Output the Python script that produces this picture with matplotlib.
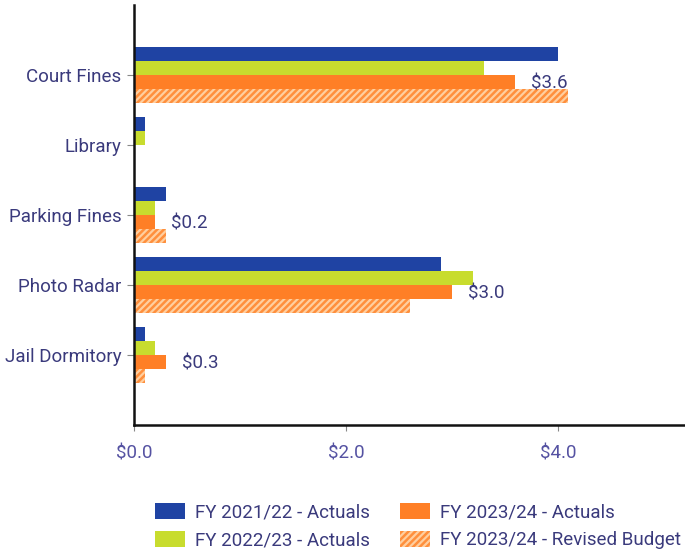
import matplotlib
matplotlib.use("Agg")
import matplotlib.pyplot as plt
from matplotlib.patches import Patch
import numpy as np

# Revenue by source, $ millions
categories = ["Court Fines", "Library", "Parking Fines", "Photo Radar", "Jail Dormitory"]
fy2122_actuals = [4.0, 0.1, 0.3, 2.9, 0.1]
fy2223_actuals = [3.3, 0.1, 0.2, 3.2, 0.2]
fy2324_actuals = [3.6, 0.0, 0.2, 3.0, 0.3]
fy2324_budget = [4.1, 0.0, 0.3, 2.6, 0.1]
labeled = [True, False, True, True, True]
series_names = ["FY 2021/22 - Actuals", "FY 2022/23 - Actuals",
                "FY 2023/24 - Actuals", "FY 2023/24 - Revised Budget"]
xticks = [0.0, 2.0, 4.0]

plt.rcParams["font.family"] = ["Roboto", "DejaVu Sans"]
plt.rcParams["hatch.linewidth"] = 1.8

BLUE = "#1f43a3"
GREEN = "#c8dc2e"
ORANGE = "#ff7f26"
HATCH_BG = "#ffcf9f"
HATCH_FG = "#ff8f3c"
TEXT = "#3a3a7c"
TICK_TEXT = "#5552a2"

fig = plt.figure(figsize=(6.85, 5.55), dpi=100)
ax = fig.add_axes([134 / 685, 1 - 425 / 555, 1 - 134 / 685, 420 / 555])

y = np.arange(len(categories))
h = 0.2
ax.barh(y - 1.5 * h, fy2122_actuals, height=h, color=BLUE, linewidth=0)
ax.barh(y - 0.5 * h, fy2223_actuals, height=h, color=GREEN, linewidth=0)
ax.barh(y + 0.5 * h, fy2324_actuals, height=h, color=ORANGE, linewidth=0)
ax.barh(y + 1.5 * h, fy2324_budget, height=h, color=HATCH_BG,
        edgecolor=HATCH_FG, hatch="/////", linewidth=0)

for yi, v, show in zip(y, fy2324_actuals, labeled):
    if show:
        ax.text(v + 0.15, yi + 0.5 * h + 0.02, f"${v:.1f}", va="center", ha="left",
                fontsize=13.5, color=TEXT)

ax.set_ylim(len(categories), -1)
ax.set_xlim(0, 5.2)
ax.set_yticks(y)
ax.set_yticklabels(categories, fontsize=13.5, color=TEXT)
ax.set_xticks(xticks)
ax.set_xticklabels([f"${t:.1f}" for t in xticks], fontsize=13.5, color=TICK_TEXT)

for side in ("top", "right"):
    ax.spines[side].set_visible(False)
for side in ("left", "bottom"):
    ax.spines[side].set_linewidth(1.8)
    ax.spines[side].set_color("#111111")
ax.tick_params(axis="y", length=5, width=0.8, color="#888888", pad=4)
ax.tick_params(axis="x", length=4, width=0.8, color="#888888", pad=10)

handles = [
    Patch(facecolor=BLUE, linewidth=0),
    Patch(facecolor=GREEN, linewidth=0),
    Patch(facecolor=ORANGE, linewidth=0),
    Patch(facecolor=HATCH_BG, edgecolor=HATCH_FG, hatch="/////", linewidth=0),
]
leg = fig.legend(handles, series_names, ncol=2, loc="upper left",
                 bbox_to_anchor=(155 / 685, 1 - 503 / 555), frameon=False,
                 borderaxespad=0, borderpad=0, fontsize=13.5,
                 handlelength=1.6, handleheight=0.95, handletextpad=0.55,
                 columnspacing=1.6, labelspacing=0.5)
for t in leg.get_texts():
    t.set_color(TEXT)

fig.savefig("out.png", dpi=100)
